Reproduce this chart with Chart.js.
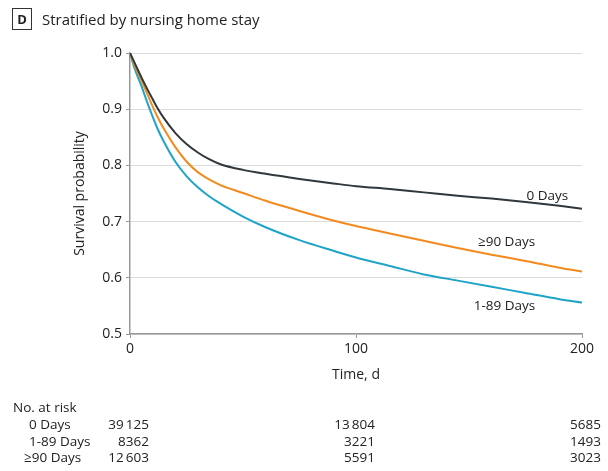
<!DOCTYPE html>
<html>
<head>
<meta charset="utf-8">
<script src="https://cdn.jsdelivr.net/npm/chart.js@4.4.1/dist/chart.umd.min.js"></script>
<style>
  body { margin: 0; background: #fff; font-family: "Open Sans", "Noto Sans", sans-serif; }
  #wrap { position: relative; width: 608px; height: 471px; }
  #panel { position: absolute; left: 12px; top: 8px; display: flex; align-items: center; color: #222; }
  #panel .box { width: 18px; height: 20px; border: 1px solid #333; font-weight: bold; font-size: 13px;
    display: flex; align-items: center; justify-content: center; margin-right: 10px; }
  #panel .txt { font-size: 15px; }
  canvas { position: absolute; left: 0; top: 0; }
</style>
</head>
<body>
<div id="wrap">
  <canvas id="kmChart" width="608" height="471"></canvas>
  <div id="panel"><div class="box">D</div><div class="txt">Stratified by nursing home stay</div></div>
</div>
<script>
const times = [0, 2, 5, 8, 10, 12, 15, 20, 25, 30, 35, 40, 50, 60, 75, 90, 100, 115, 130, 145, 160, 175, 190, 200];
const days0 = [1.0, 0.983, 0.957, 0.933, 0.918, 0.903, 0.884, 0.858, 0.838, 0.823, 0.811, 0.802, 0.792, 0.785, 0.776, 0.768, 0.763, 0.758, 0.752, 0.746, 0.741, 0.735, 0.728, 0.723];
const days90 = [1.0, 0.978, 0.952, 0.924, 0.905, 0.888, 0.865, 0.833, 0.807, 0.788, 0.775, 0.765, 0.751, 0.737, 0.719, 0.702, 0.692, 0.679, 0.666, 0.653, 0.641, 0.630, 0.618, 0.611];
const days1to89 = [1.0, 0.973, 0.942, 0.908, 0.887, 0.867, 0.842, 0.807, 0.781, 0.761, 0.745, 0.732, 0.709, 0.690, 0.667, 0.648, 0.636, 0.621, 0.606, 0.595, 0.584, 0.573, 0.562, 0.556];

// number at risk table
const riskTimes = [0, 100, 200];
const riskGroups = ['0 Days', '1-89 Days', '\u226590 Days'];
const risk0 = [39125, 13804, 5685];
const risk1to89 = [8362, 3221, 1493];
const risk90 = [12603, 5591, 3023];

const FONT = '"Open Sans", "Noto Sans", sans-serif';
const TXT = '#222';

const toPts = ys => times.map((t, i) => ({ x: t, y: ys[i] }));
const fmt = n => n >= 10000 ? String(n).replace(/(\d{3})$/, '\u2009$1') : String(n);

// curve labels + risk table
const extras = {
  id: 'extras',
  afterDraw(chart) {
    const { ctx, scales: { x, y } } = chart;
    ctx.save();
    ctx.fillStyle = TXT;
    ctx.font = '13.5px ' + FONT;
    ctx.textAlign = 'center';
    ctx.textBaseline = 'middle';
    const labels = [['0 Days', 184.7, 0.746], ['\u226590 Days', 166.6, 0.663], ['1-89 Days', 165.7, 0.550]];
    labels.forEach(([txt, t, v]) => ctx.fillText(txt, x.getPixelForValue(t), y.getPixelForValue(v)));

    ctx.textAlign = 'left';
    ctx.fillText('No. at risk', 13, 408);
    const rows = [risk0, risk1to89, risk90];
    rows.forEach((row, r) => {
      const yy = 425 + r * 16.7;
      ctx.textAlign = 'left';
      ctx.fillText(riskGroups[r], r === 2 ? 24 : 29, yy);
      ctx.textAlign = 'right';
      row.forEach((n, c) => ctx.fillText(fmt(n), x.getPixelForValue(riskTimes[c]) + 19, yy));
    });
    ctx.restore();
  }
};

document.addEventListener('DOMContentLoaded', () => {
  const ctx = document.getElementById('kmChart').getContext('2d');
  const line = (label, ys, color) => ({
    label, data: toPts(ys), borderColor: color, borderWidth: 2, pointRadius: 0,
    cubicInterpolationMode: 'monotone', fill: false
  });
  new Chart(ctx, {
    type: 'line',
    data: {
      datasets: [
        line('0 Days', days0, '#2f383d'),
        line('\u226590 Days', days90, '#f28a1e'),
        line('1-89 Days', days1to89, '#1ea4c8')
      ]
    },
    options: {
      responsive: false,
      animation: false,
      layout: { padding: { top: 53, right: 26, left: 0, bottom: 0 } },
      plugins: { legend: { display: false }, tooltip: { enabled: false } },
      scales: {
        x: {
          type: 'linear', min: 0, max: 200,
          afterFit: s => { s.height = 137; },
          ticks: { stepSize: 100, color: TXT, font: { family: FONT, size: 14 }, padding: 3, maxRotation: 0 },
          grid: { drawOnChartArea: false, tickLength: 4, tickColor: '#999' },
          border: { color: '#999', width: 1.5 },
          title: { display: true, text: 'Time, d', color: TXT, font: { family: FONT, size: 14 }, padding: { top: 0, bottom: 88 } }
        },
        y: {
          min: 0.5, max: 1.0,
          afterFit: s => { s.width = 130; },
          ticks: { stepSize: 0.1, color: TXT, font: { family: FONT, size: 14 }, padding: 4, callback: v => v.toFixed(1) },
          grid: { color: '#dcdcdc', lineWidth: 1, tickLength: 4, tickColor: '#999' },
          border: { color: '#999', width: 1.5 },
          title: { display: true, text: 'Survival probability', color: TXT, font: { family: FONT, size: 14 }, padding: { top: 72, bottom: 0 } }
        }
      }
    },
    plugins: [extras]
  });
});
</script>
</body>
</html>
